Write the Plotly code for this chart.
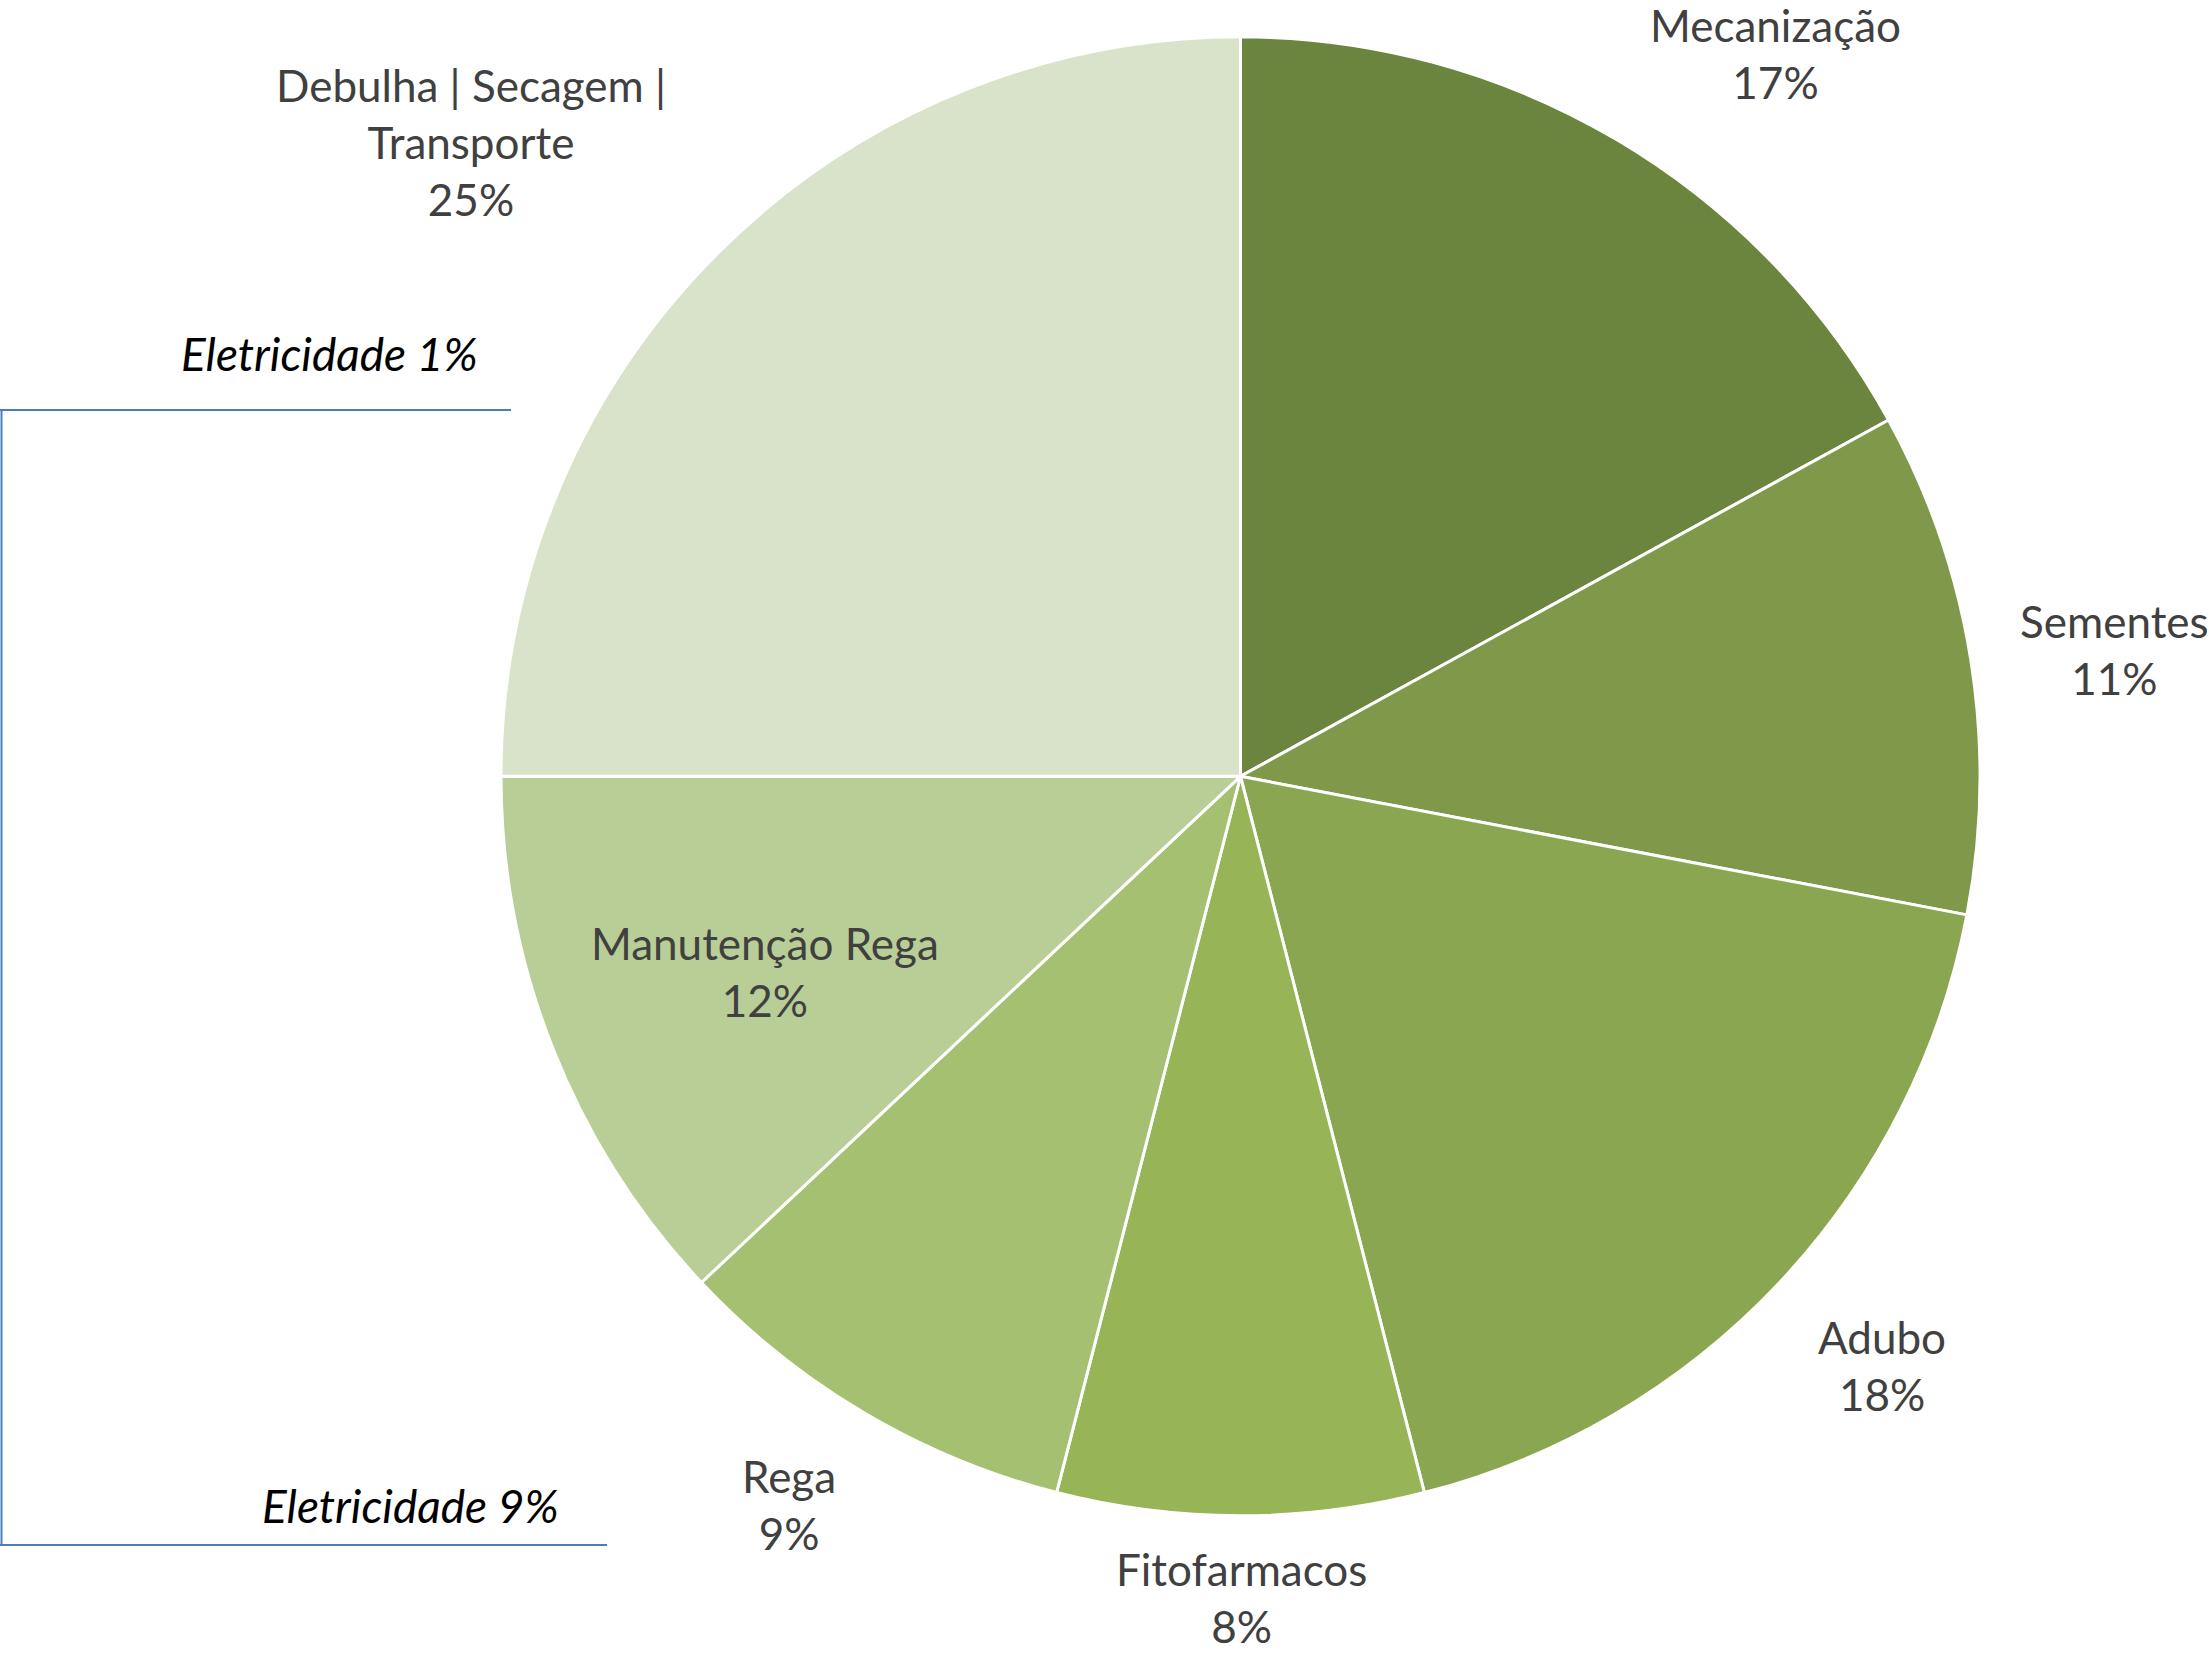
import plotly.graph_objects as go

W, H = 2209, 1654

# ---- data ----
categories = ["Mecanização", "Sementes", "Adubo", "Fitofarmacos", "Rega",
              "Manutenção Rega", "Debulha | Secagem |<br>Transporte"]
shares = [17, 11, 18, 8, 9, 12, 25]
colors = ["#6B843E", "#7F984A", "#8BA651", "#97B457", "#A6C071", "#B9CE96", "#D9E3C9"]

elec_labels = ["Eletricidade 1%", "Eletricidade 9%"]

# label positions (pixel, top-left origin)
label_pos = [(1775, 54), (2114, 649), (1882, 1365), (1241, 1597),
             (789, 1504), (765, 971), (471, 142)]
elec_pos = [(329, 354), (410, 1505)]

FONT = "Lato"
FS = 44
FS_IT = 46

fig = go.Figure(go.Pie(
    labels=categories, values=shares, sort=False, direction="clockwise", rotation=0,
    marker=dict(colors=colors, line=dict(color="white", width=3)),
    textinfo="none", hoverinfo="label+percent", showlegend=False,
    domain=dict(x=[(1240.5 - 739.5) / W, (1240.5 + 739.5) / W],
                y=[(H - 776.3 - 739.5) / H, (H - 776.3 + 739.5) / H]),
))

def px(x, y):
    return x / W, 1 - y / H

anns = []
for cat, v, (x, y) in zip(categories, shares, label_pos):
    ax, ay = px(x, y)
    anns.append(dict(x=ax, y=ay, xref="paper", yref="paper", showarrow=False,
                     text=f"{cat}<br>{v}%", align="center", xanchor="center", yanchor="middle",
                     font=dict(family=FONT, size=FS, color="#404040")))
for t, (x, y) in zip(elec_labels, elec_pos):
    ax, ay = px(x, y)
    anns.append(dict(x=ax, y=ay, xref="paper", yref="paper", showarrow=False,
                     text=f"<i>{t}</i>", xanchor="center", yanchor="middle",
                     font=dict(family=FONT, size=FS_IT, color="#000000")))

line = dict(color="#4A7EBB", width=2)
shapes = []
for (x0, y0, x1, y1) in [(0, 410, 511, 410), (1.5, 410, 1.5, 1545), (0, 1545, 607, 1545)]:
    a0, b0 = px(x0, y0)
    a1, b1 = px(x1, y1)
    shapes.append(dict(type="line", xref="paper", yref="paper", x0=a0, y0=b0, x1=a1, y1=b1, line=line))

fig.update_layout(width=W, height=H, margin=dict(l=0, r=0, t=0, b=0),
                  paper_bgcolor="white", plot_bgcolor="white",
                  annotations=anns, shapes=shapes)

fig.write_html("out.html", config={"displayModeBar": False},
               post_script="document.body.style.margin='0';document.body.style.padding='0';document.body.style.overflow='hidden';")
